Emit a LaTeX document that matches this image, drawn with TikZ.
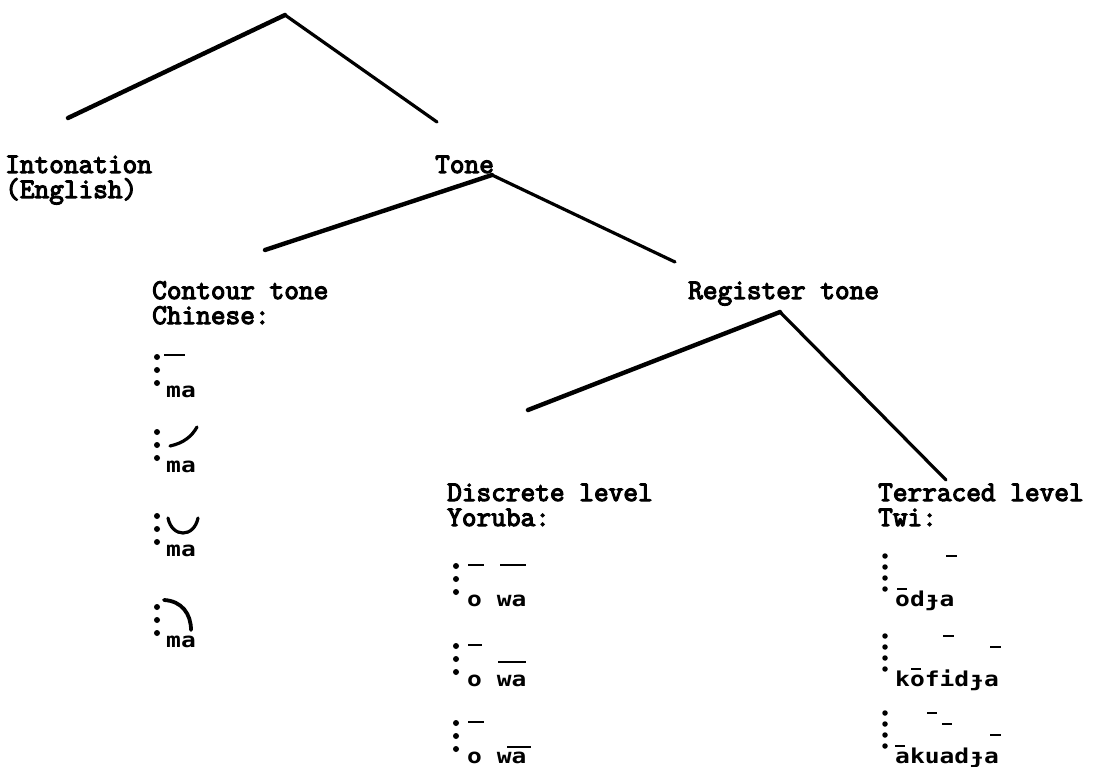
\documentclass[tikz,border=0pt]{standalone}
\usepackage{fontspec}
\newfontfamily\typew[FakeBold=4]{Latin Modern Mono}
\newfontfamily\exfont[FakeStretch=1.2]{DejaVu Sans Mono}
\begin{document}
\begin{tikzpicture}[x=1pt,y=-1pt,
  lab/.style={font=\typew\fontsize{28.5}{25}\selectfont, anchor=base west, inner sep=0pt},
  exm/.style={font=\exfont\bfseries\fontsize{20.5}{20}\selectfont, anchor=base west, inner sep=0pt},
  branchL/.style={line width=4.4pt, line cap=round},
  branchR/.style={line width=3.2pt, line cap=round},
  pdot/.style={circle, fill=black, inner sep=0pt, minimum size=6pt},
  tdot/.style={circle, fill=black, inner sep=0pt, minimum size=5.5pt},
  pbar/.style={line width=2.8pt},
  pcurve/.style={line width=3.2pt, line cap=round},
]
\useasboundingbox (0,0) rectangle (1103,767);
% ---- level 1
\coordinate (root) at (285,15);
\node[lab] (into) at (5,173) {Intonation};
\node[lab] (eng) at (5,198) {(English)};
\node[lab] (tone) at (435,173) {Tone};
\coordinate (intoEnd) at (68,118);
\coordinate (toneEnd) at (437,122);
\draw[branchL] (root) -- (intoEnd);
\draw[branchR] (root) -- (toneEnd);
% ---- level 2
\coordinate (toneApex) at (492,175);
\node[lab] (cont) at (152,299) {Contour tone};
\node[lab] (chin) at (152,324) {Chinese:};
\node[lab] (reg) at (688,299) {Register tone};
\coordinate (contEnd) at (265,250);
\coordinate (regEnd) at (675,262);
\draw[branchL] (toneApex) -- (contEnd);
\draw[branchR] (toneApex) -- (regEnd);
% ---- level 3
\coordinate (regApex) at (780,312);
\node[lab] (disc) at (447,501) {Discrete level};
\node[lab] (yor) at (447,526) {Yoruba:};
\node[lab] (terr) at (878,501) {Terraced level};
\node[lab] (twi) at (878,526) {Twi:};
\coordinate (discEnd) at (528,410);
\coordinate (terrEnd) at (946,480);
\draw[branchL] (regApex) -- (discEnd);
\draw[branchR] (regApex) -- (terrEnd);
% ---- Chinese examples
\foreach \i/\B in {1/397,2/472,3/556,4/647}{
  \node[pdot] (cd\i a) at (157,\B-40) {};
  \node[pdot] (cd\i b) at (157,\B-27) {};
  \node[pdot] (cd\i c) at (157,\B-14) {};
  \node[exm] (cm\i) at (166,\B) {ma};
}
\draw[pbar] (164,355) -- (185,355);
\draw[pcurve] (170,446) .. controls (184,443) and (192,436) .. (197,427);
\draw[pcurve] (168,518) .. controls (172,538) and (194,538) .. (198,518);
\draw[pcurve, line width=3.8pt] (164,600) .. controls (182,601) and (191,614) .. (191,630);
% ---- Yoruba examples
\foreach \i/\B in {1/606,2/686,3/763}{
  \node[pdot] (yd\i a) at (456,\B-40) {};
  \node[pdot] (yd\i b) at (456,\B-27) {};
  \node[pdot] (yd\i c) at (456,\B-14) {};
  \node[exm] (yw\i) at (467,\B) {o wa};
}
\draw[pbar] (468,565) -- (484,565);
\draw[pbar] (500,565) -- (526,565);
\draw[pbar] (468,645) -- (482,645);
\draw[pbar] (498,662) -- (526,662);
\draw[pbar] (468,722) -- (484,722);
\draw[pbar] (507,747) -- (531,747);
% ---- Twi examples
\foreach \i/\B/\w in {1/606/odɟa,2/686/kofidɟa,3/763/akuadɟa}{
  \node[tdot] (td\i a) at (885,\B-50) {};
  \node[tdot] (td\i b) at (885,\B-39) {};
  \node[tdot] (td\i c) at (885,\B-28) {};
  \node[tdot] (td\i d) at (885,\B-17) {};
  \node[exm] (tw\i) at (895,\B) {\w};
}
% odɟa
\draw[pbar] (897,589) -- (907,589);
\draw[pbar] (946,556) -- (957,556);
% kofidɟa
\draw[pbar] (911,669) -- (921,669);
\draw[pbar] (943,636) -- (954,636);
\draw[pbar] (990,647) -- (1001,647);
% akuadɟa
\draw[pbar] (895,746) -- (905,746);
\draw[pbar] (927,713) -- (937,713);
\draw[pbar] (942,724) -- (952,724);
\draw[pbar] (990,735) -- (1001,735);
\end{tikzpicture}
\end{document}
